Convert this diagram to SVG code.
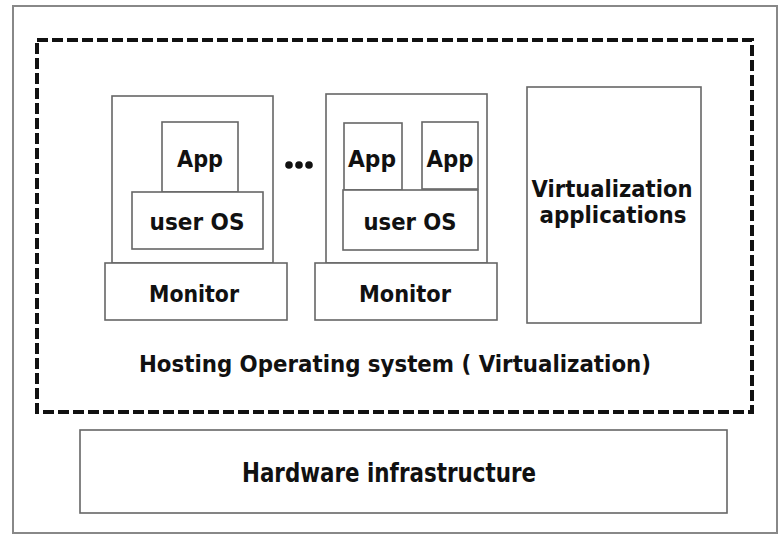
<svg xmlns="http://www.w3.org/2000/svg" width="782" height="536" viewBox="0 0 782 536">
<style>
.box{fill:#fff;stroke:#666;stroke-width:1.6}
.t{font-family:"DejaVu Sans","Liberation Sans",sans-serif;font-weight:bold;fill:#111;text-anchor:middle;font-size:23px}
</style>
<rect x="0" y="0" width="782" height="536" fill="#fff"/>
<g id="frame"><rect x="13" y="6" width="764" height="527" fill="#fff" stroke="#888" stroke-width="2"/></g>
<g id="host">
<rect x="37" y="40" width="715" height="372" fill="none" stroke="#111" stroke-width="4" stroke-dasharray="11 4"/>
<text class="t" x="395" y="372" textLength="512" lengthAdjust="spacingAndGlyphs">Hosting Operating system ( Virtualization)</text>
</g>
<g id="vm1">
<rect class="box" x="112" y="96" width="161" height="167"/>
<rect class="box" x="105" y="263" width="182" height="57"/>
<text class="t" x="194" y="302" textLength="90" lengthAdjust="spacingAndGlyphs">Monitor</text>
</g>
<g id="app1"><rect class="box" x="162" y="122" width="76" height="70"/><text class="t" x="200" y="167" textLength="46" lengthAdjust="spacingAndGlyphs">App</text></g>
<g id="os1"><rect class="box" x="132" y="192" width="131" height="57"/><text class="t" x="197" y="230" textLength="95" lengthAdjust="spacingAndGlyphs">user OS</text></g>
<g id="dots"><circle cx="289" cy="165" r="3.8" fill="#111"/><circle cx="299" cy="165" r="3.8" fill="#111"/><circle cx="309" cy="165" r="3.8" fill="#111"/></g>
<g id="vm2">
<rect class="box" x="326" y="94" width="161" height="169"/>
<rect class="box" x="315" y="263" width="182" height="57"/>
<text class="t" x="405" y="302" textLength="92" lengthAdjust="spacingAndGlyphs">Monitor</text>
</g>
<g id="app2a"><rect class="box" x="344" y="123" width="58" height="67"/><text class="t" x="372" y="167" textLength="48" lengthAdjust="spacingAndGlyphs">App</text></g>
<g id="app2b"><rect class="box" x="422" y="122" width="56" height="67"/><text class="t" x="450" y="167" textLength="47" lengthAdjust="spacingAndGlyphs">App</text></g>
<g id="os2"><rect class="box" x="343" y="190" width="135" height="60"/><text class="t" x="410" y="230" textLength="93" lengthAdjust="spacingAndGlyphs">user OS</text></g>
<g id="virtapps"><rect class="box" x="527" y="87" width="174" height="236"/>
<text class="t" x="612" y="197" textLength="161" lengthAdjust="spacingAndGlyphs">Virtualization</text>
<text class="t" x="613" y="223" textLength="147" lengthAdjust="spacingAndGlyphs">applications</text></g>
<g id="hardware"><rect class="box" x="80" y="430" width="647" height="83"/>
<text class="t" x="389" y="482" style="font-size:26px" textLength="294" lengthAdjust="spacingAndGlyphs">Hardware infrastructure</text></g>
<g id="connectors"></g>
</svg>
